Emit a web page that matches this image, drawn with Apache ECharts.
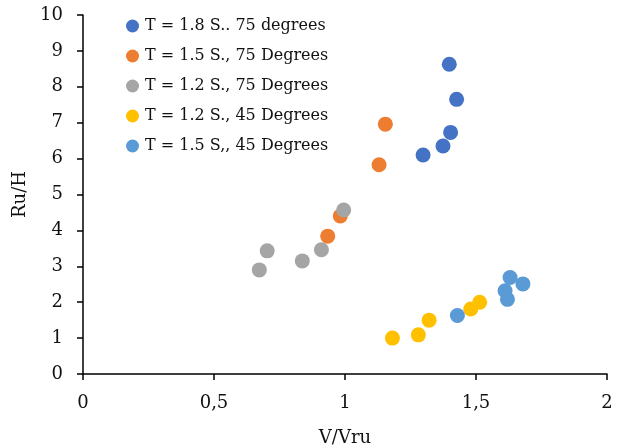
<!DOCTYPE html>
<html><head><meta charset="utf-8">
<script src="https://cdn.jsdelivr.net/npm/echarts@6/dist/echarts.min.js"></script>
<style>html,body{margin:0;padding:0;background:#fff}#c{width:622px;height:448px}</style>
</head><body><div id="c"></div>
<script>
const seriesNames = ["T = 1.8 S.. 75 degrees","T = 1.5 S., 75 Degrees","T = 1.2 S., 75 Degrees","T = 1.2 S., 45 Degrees","T = 1.5 S,, 45 Degrees"];
const s1 = [[1.398,8.63],[1.426,7.65],[1.403,6.73],[1.374,6.35],[1.298,6.10]];
const s2 = [[1.154,6.96],[1.130,5.83],[0.982,4.40],[0.934,3.84]];
const s3 = [[0.995,4.57],[0.703,3.43],[0.673,2.90],[0.837,3.15],[0.910,3.46]];
const s4 = [[1.181,1.00],[1.280,1.09],[1.321,1.50],[1.480,1.81],[1.514,2.00]];
const s5 = [[1.429,1.63],[1.611,2.32],[1.620,2.08],[1.630,2.69],[1.679,2.51]];
const xTicks = ["0","0,5","1","1,5","2"];
const colors = ["#4472C4","#ED7D31","#A5A5A5","#FFC000","#5B9BD5"];
const font = "'DejaVu Serif', serif";
const chart = echarts.init(document.getElementById('c'));
const all = [s1,s2,s3,s4,s5];
chart.setOption({
  animation:false,
  color:colors,
  grid:{left:83,right:15,top:15,bottom:74,containLabel:false,outerBoundsMode:'none'},
  legend:{orient:'vertical',left:126,top:18,itemGap:14,itemWidth:13,itemHeight:13,padding:0,
    icon:'circle',textStyle:{fontFamily:font,fontSize:16,lineHeight:15,color:'#111',padding:[0,0,0,1]},
    data:seriesNames},
  xAxis:{type:'value',min:0,max:2,interval:0.5,
    name:'V/Vru',nameLocation:'middle',nameGap:55,
    nameTextStyle:{fontFamily:font,fontSize:18,color:'#111'},
    axisLine:{lineStyle:{color:'#000',width:1.5}},
    axisTick:{show:true,length:6,lineStyle:{color:'#000',width:1.5}},
    axisLabel:{fontFamily:font,fontSize:18,color:'#111',margin:20,
      formatter:function(v){return xTicks[Math.round(v/0.5)];}},
    splitLine:{show:false}},
  yAxis:{type:'value',min:0,max:10,interval:1,
    name:'Ru/H',nameLocation:'middle',nameGap:52,
    nameTextStyle:{fontFamily:font,fontSize:18,color:'#111'},
    axisLine:{show:true,lineStyle:{color:'#000',width:1.5}},
    axisTick:{show:true,length:6,lineStyle:{color:'#000',width:1.5}},
    axisLabel:{fontFamily:font,fontSize:18,color:'#111',margin:20},
    splitLine:{show:false}},
  series: all.map((d,i)=>({name:seriesNames[i],type:'scatter',data:d,symbolSize:15,
    itemStyle:{color:colors[i],opacity:1}}))
});
</script></body></html>
